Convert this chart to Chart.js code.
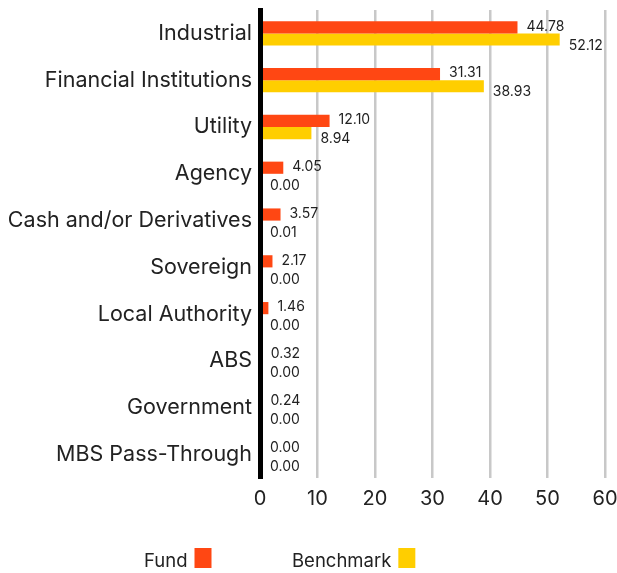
<!DOCTYPE html>
<html>
<head>
<meta charset="utf-8">
<script src="https://cdn.jsdelivr.net/npm/chart.js@4"></script>
<style>
html,body{margin:0;padding:0;background:#fff;}
#wrap{width:617px;height:573px;position:relative;}
</style>
</head>
<body>
<div id="wrap"><canvas id="c"></canvas></div>
<script>
const categories = ["Industrial","Financial Institutions","Utility","Agency","Cash and/or Derivatives","Sovereign","Local Authority","ABS","Government","MBS Pass-Through"];
const fundValues = [44.78,31.31,12.10,4.05,3.57,2.17,1.46,0.32,0.24,0.00];
const benchmarkValues = [52.12,38.93,8.94,0.00,0.01,0.00,0.00,0.00,0.00,0.00];
const xTicks = [0,10,20,30,40,50,60];
const seriesNames = ["Fund","Benchmark"];
const seriesColors = ["#FF4713","#FFCE00"];

const FONT = "Inter, sans-serif";

const valueLabels = {
  id: 'valueLabels',
  afterDatasetsDraw(chart) {
    const ctx = chart.ctx;
    ctx.save();
    ctx.font = "14px " + FONT;
    ctx.fillStyle = "#222";
    ctx.textAlign = "left";
    ctx.textBaseline = "middle";
    chart.data.datasets.forEach((ds, di) => {
      const meta = chart.getDatasetMeta(di);
      meta.data.forEach((bar, i) => {
        const v = ds.data[i];
        const dy = di === 0 ? -1 : 6;
        ctx.fillText(v.toFixed(2), Math.max(bar.x, chart.chartArea.left + 1) + 9, bar.y + dy);
      });
    });
    ctx.restore();
  }
};

const customLegend = {
  id: 'customLegend',
  afterDraw(chart) {
    const ctx = chart.ctx;
    ctx.save();
    ctx.font = "18.5px " + FONT;
    ctx.textBaseline = "alphabetic";
    ctx.textAlign = "left";
    const starts = [144, 292];
    chart.data.datasets.forEach((ds, di) => {
      const x = starts[di];
      ctx.fillStyle = "#222";
      ctx.fillText(ds.label, x, 567);
      const w = ctx.measureText(ds.label).width;
      ctx.fillStyle = ds.backgroundColor;
      ctx.fillRect(x + w + 7, 548, 17, 20);
    });
    ctx.restore();
  }
};

new Chart(document.getElementById('c'), {
  type: 'bar',
  data: {
    labels: categories,
    datasets: [
      {label: seriesNames[0], data: fundValues, backgroundColor: seriesColors[0], categoryPercentage: 0.52, barPercentage: 1.0},
      {label: seriesNames[1], data: benchmarkValues, backgroundColor: seriesColors[1], categoryPercentage: 0.52, barPercentage: 1.0}
    ]
  },
  options: {
    indexAxis: 'y',
    responsive: true,
    maintainAspectRatio: false,
    animation: false,
    layout: {padding: {top: 10, right: 12, left: 0, bottom: 0}},
    plugins: {
      legend: {display: false},
      tooltip: {enabled: false}
    },
    scales: {
      x: {
        min: 0, max: 60,
        afterBuildTicks(scale) { scale.ticks = xTicks.map(v => ({value: v})); },
        afterFit(scale) { scale.height = 95; scale.paddingLeft = 0; scale.paddingRight = 0; },
        grid: {color: '#C8C8C8', lineWidth: 2.5, drawTicks: false},
        border: {display: false},
        ticks: {color: '#222', font: {family: FONT, size: 20}, padding: 9}
      },
      y: {
        afterFit(scale) { scale.width = 260; scale.paddingTop = 0; scale.paddingBottom = 0; },
        grid: {display: false, drawTicks: false},
        border: {display: true, color: '#000', width: 5, z: 1},
        ticks: {color: '#222', font: {family: FONT, size: 21.5}, padding: 8}
      }
    }
  },
  plugins: [valueLabels, customLegend]
});
</script>
</body>
</html>
